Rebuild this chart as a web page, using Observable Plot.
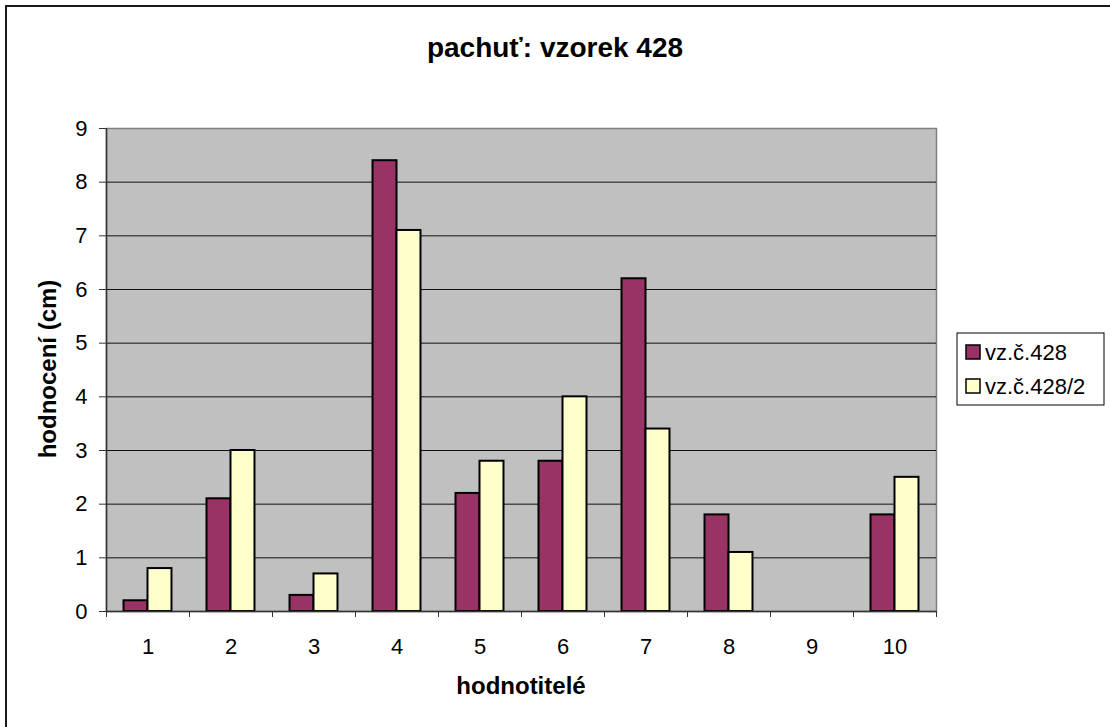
<!DOCTYPE html>
<html>
<head>
<meta charset="utf-8">
<script src="https://cdn.jsdelivr.net/npm/d3@7"></script>
<script src="https://cdn.jsdelivr.net/npm/@observablehq/plot@0.6"></script>
<style>
  html, body { margin: 0; padding: 0; background: #fff; }
  #wrap { position: relative; width: 1110px; height: 727px; overflow: hidden; font-family: "Liberation Sans", Arial, sans-serif; }
  #wrap > svg { position: absolute; left: 0; top: 0; }
</style>
</head>
<body>
<div id="wrap"></div>
<script>
// ---- data ----
const judges = [1, 2, 3, 4, 5, 6, 7, 8, 9, 10];
const seriesNames = ["vz.č.428", "vz.č.428/2"];
const sample428 = [0.2, 2.1, 0.3, 8.4, 2.2, 2.8, 6.2, 1.8, 0, 1.8];
const sample428b = [0.8, 3.0, 0.7, 7.1, 2.8, 4.0, 3.4, 1.1, 0, 2.5];
const yTicks = [0, 1, 2, 3, 4, 5, 6, 7, 8, 9];
const colors = ["#993366", "#ffffcc"];
const titleText = "pachuť: vzorek 428";
const xTitle = "hodnotitelé";
const yTitle = "hodnocení (cm)";

const barW = 0.289;
const rows = judges.flatMap((j, i) => [
  {j, s: 0, v: sample428[i]},
  {j, s: 1, v: sample428b[i]}
]).filter(d => d.v > 0);

const chart = Plot.plot({
  width: 1110,
  height: 727,
  marginLeft: 106,
  marginRight: 174,
  marginTop: 128,
  marginBottom: 116,
  style: {fontFamily: '"Liberation Sans", Arial, sans-serif', background: "transparent", color: "#000"},
  x: {type: "linear", domain: [0.5, 10.5]},
  y: {domain: [0, 9]},
  marks: [
    Plot.frame({fill: "#c0c0c0", stroke: "#808080", strokeWidth: 1.5}),
    Plot.ruleY(yTicks.filter(t => t > 0 && t < 9), {stroke: "#111", strokeWidth: 1}),
    Plot.rectY(rows, {
      x1: d => d.s === 0 ? d.j - barW : d.j,
      x2: d => d.s === 0 ? d.j : d.j + barW,
      y1: 0,
      y2: "v",
      fill: d => colors[d.s],
      stroke: "#000",
      strokeWidth: 2
    }),
    Plot.ruleX([0.5], {stroke: "#333", strokeWidth: 1.5}),
    Plot.ruleY([0], {stroke: "#333", strokeWidth: 1.5}),
    Plot.axisY({ticks: yTicks, tickSize: 7, tickPadding: 12, fontSize: 22, label: null, stroke: "#333"}),
    Plot.axisX({ticks: d3.range(0.5, 11, 1), tickSize: 6, text: null, label: null, stroke: "#333"}),
    Plot.axisX({ticks: judges, tickSize: 0, tickPadding: 27, fontSize: 22, label: null})
  ]
});
const wrap = document.getElementById("wrap");
wrap.appendChild(chart);

// overlay: border, titles, legend
const ns = "http://www.w3.org/2000/svg";
const ov = document.createElementNS(ns, "svg");
ov.setAttribute("width", 1110);
ov.setAttribute("height", 727);
ov.setAttribute("font-family", '"Liberation Sans", Arial, sans-serif');
function el(tag, attrs, text) {
  const e = document.createElementNS(ns, tag);
  for (const k in attrs) e.setAttribute(k, attrs[k]);
  if (text != null) e.textContent = text;
  ov.appendChild(e);
  return e;
}
el("rect", {x: 6, y: 6, width: 1120, height: 740, fill: "none", stroke: "#000", "stroke-width": 1.8});
el("text", {x: 555, y: 57, "text-anchor": "middle", "font-size": 28, "font-weight": "bold"}, titleText);
el("text", {x: 521, y: 694, "text-anchor": "middle", "font-size": 24, "font-weight": "bold"}, xTitle);
el("text", {x: 0, y: 0, transform: "translate(56,369) rotate(-90)", "text-anchor": "middle", "font-size": 24, "font-weight": "bold"}, yTitle);
// legend
el("rect", {x: 957, y: 333, width: 147, height: 72, fill: "#fff", stroke: "#000", "stroke-width": 1});
seriesNames.forEach((name, i) => {
  const by = 360 + i * 34;
  el("rect", {x: 966, y: by - 15, width: 14, height: 14, fill: colors[i], stroke: "#000", "stroke-width": 1.5});
  el("text", {x: 985, y: by, "font-size": 22}, name);
});
wrap.appendChild(ov);
</script>
</body>
</html>
